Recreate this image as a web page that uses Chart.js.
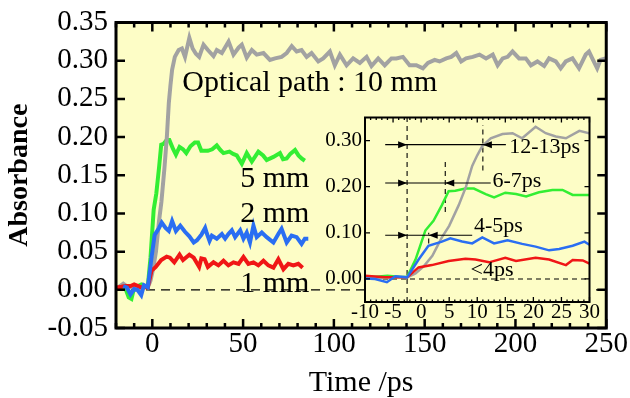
<!DOCTYPE html>
<html>
<head>
<meta charset="utf-8">
<script src="https://cdn.jsdelivr.net/npm/chart.js@4.4.0/dist/chart.umd.min.js"></script>
<style>
  html, body { margin: 0; padding: 0; background: #fff; }
  #wrap { position: relative; width: 630px; height: 398px; }
  #main { position: absolute; left: 0; top: 0; }
  #inset { position: absolute; left: 320px; top: 104px; }
</style>
</head>
<body>
<div id="wrap">
  <canvas id="main" width="630" height="398"></canvas>
  <canvas id="inset" width="280" height="222"></canvas>
</div>
<script>
// valeurs : [temps (ps), absorbance]
const gray10mm = [[-19,0.003],[-16,0.008],[-13,0.003],[-10,0.004],[-7,0.002],[-4,0.004],[-2.5,0.003],[-1,0.012],[0.5,0.028],[2,0.05],[3.7,0.09],[5,0.115],[6.7,0.16],[8,0.2],[9.1,0.245],[10,0.268],[10.9,0.288],[12.4,0.305],[14.5,0.314],[16.3,0.316],[18,0.305],[20.4,0.33],[22.2,0.316],[24,0.309],[25.8,0.305],[28.2,0.321],[30.6,0.314],[33.7,0.306],[35.5,0.314],[38.3,0.31],[42,0.325],[44.7,0.308],[47.5,0.317],[49.3,0.321],[52,0.304],[54.8,0.314],[57.5,0.308],[61.2,0.31],[64.8,0.301],[67.6,0.303],[71.2,0.305],[74,0.31],[76.8,0.319],[79.5,0.312],[82.2,0.314],[85,0.305],[87.7,0.31],[91.4,0.299],[94.1,0.303],[97.8,0.312],[100.5,0.294],[103.3,0.308],[107,0.294],[110.6,0.303],[114.3,0.297],[118,0.305],[120.7,0.293],[124.4,0.303],[128,0.294],[131.7,0.303],[134.4,0.303],[138,0.305],[141.7,0.294],[145.4,0.294],[149,0.29],[151.8,0.297],[155.5,0.301],[158.2,0.299],[161.9,0.303],[164.6,0.305],[167.4,0.31],[170.1,0.299],[172.8,0.303],[176.5,0.305],[180.2,0.308],[183.8,0.303],[187.5,0.308],[190.2,0.294],[193,0.303],[195.7,0.305],[198.4,0.312],[202,0.303],[205.7,0.303],[208.5,0.294],[212.1,0.299],[215.8,0.293],[218.5,0.303],[222.2,0.299],[224.9,0.29],[227.7,0.299],[231.4,0.303],[235,0.29],[238.7,0.308],[240.5,0.312],[242.3,0.303],[245,0.29],[246.8,0.301],[249.6,0.303]];
const green5mm = [[-19.5,0.001],[-17,0.004],[-15,0.003],[-13,-0.01],[-11.5,-0.012],[-10,0.003],[-8,0.005],[-6,0.007],[-4,0.005],[-2.5,0.004],[-1,0.042],[0.75,0.105],[2.2,0.126],[3.7,0.16],[4.9,0.19],[6.1,0.191],[7.9,0.196],[9.4,0.196],[11.5,0.184],[13,0.177],[15,0.187],[16.9,0.184],[18.7,0.179],[21,0.188],[23.4,0.193],[25.2,0.193],[27,0.182],[30.6,0.182],[33,0.184],[35.5,0.189],[37.5,0.183],[39.2,0.179],[42.5,0.181],[44.5,0.178],[46.5,0.176],[49.3,0.165],[52,0.179],[54.8,0.168],[58.4,0.181],[61,0.176],[63,0.17],[66.7,0.174],[70.3,0.179],[72,0.171],[74,0.172],[76,0.178],[78.6,0.183],[80.5,0.176],[82.2,0.172],[84,0.169]];
const blue2mm = [[-16,0.005],[-14,0.003],[-12,-0.006],[-10,0.001],[-8.2,0.0],[-6.1,-0.007],[-4.6,0.006],[-2.5,0.0035],[-0.45,0.042],[1.3,0.072],[3.7,0.081],[5.2,0.088],[7.3,0.081],[9.1,0.077],[10.9,0.09],[13,0.077],[15.4,0.084],[18,0.076],[20.4,0.07],[22.8,0.062],[24.6,0.065],[27,0.072],[29.1,0.081],[30,0.074],[31.5,0.064],[32.8,0.071],[35.5,0.067],[38.3,0.073],[40.1,0.067],[41.9,0.073],[43.8,0.078],[45.6,0.069],[48.4,0.078],[50.2,0.067],[52,0.075],[53.8,0.062],[55.7,0.084],[57.5,0.069],[60.3,0.075],[63,0.069],[66.7,0.062],[69.4,0.073],[71.2,0.08],[74,0.062],[76.7,0.071],[79.5,0.069],[82.2,0.06],[84,0.067],[85.9,0.067]];
const red1mm = [[-19.5,0.003],[-17,0.004],[-15,0.005],[-12,0.005],[-10,0.007],[-6.4,0.0035],[-2.5,0.0035],[-0.45,0.025],[1.9,0.03],[4.9,0.039],[7.9,0.0435],[9.7,0.042],[12.1,0.036],[15,0.046],[16.9,0.039],[20.4,0.046],[22.8,0.042],[25.8,0.03],[27,0.041],[28.8,0.04],[30.6,0.03],[33.7,0.036],[36.4,0.032],[39.2,0.038],[41.9,0.032],[44.7,0.036],[47.5,0.034],[50.2,0.043],[52.9,0.034],[55.7,0.036],[58.4,0.032],[61.2,0.038],[63.9,0.032],[66.7,0.029],[69.4,0.04],[72.2,0.027],[74.9,0.034],[77.7,0.032],[80.4,0.034],[82.8,0.029]];

// graduations
const mainXTicks = [0, 50, 100, 150, 200, 250];
const mainYTicks = [-0.05, 0, 0.05, 0.10, 0.15, 0.20, 0.25, 0.30, 0.35];
const insetXTicks = [-10, -5, 0, 5, 10, 15, 20, 25, 30];
const insetYTicks = [0, 0.10, 0.20, 0.30];

// textes
const mainTexts = [
  { text: 'Optical path : 10 mm', x: 16.5, y: 0.26, align: 'left' },
  { text: '5 mm', x: 86.5, y: 0.134, align: 'right' },
  { text: '2 mm', x: 86.5, y: 0.0886, align: 'right' },
  { text: '1 mm', x: 86.5, y: -0.003, align: 'right' }
];
const insetTexts = [
  { text: '12-13ps', x: 15.7, y: 0.272 },
  { text: '6-7ps', x: 12.7, y: 0.20 },
  { text: '4-5ps', x: 9.4, y: 0.102 },
  { text: '<4ps', x: 8.8, y: 0.006 }
];
// flèches : hauteur, début, fin, pointe gauche, pointe droite
const insetArrows = [
  { y: 0.291, from: -6.4, to: 15.1, tipA: -2.5, tipB: 11 },
  { y: 0.208, from: -6.4, to: 12.4, tipA: -2.5, tipB: 4.3 },
  { y: 0.0947, from: -6.4, to: 9.1, tipA: -2.5, tipB: 1.35 }
];
// segments pointillés [x1, y1, x2, y2]
const insetDashes = [
  [-10, 0, 30, 0],
  [-2.5, -0.05, -2.5, 0.35],
  [4.3, 0.145, 4.3, 0.256],
  [11, 0.235, 11, 0.334],
  [1.35, 0.077, 1.35, 0.10]
];
const mainDashes = [[-20, 0, 250, 0]];

const BG = '#fdfdc6';
const FONT = "'Liberation Serif', 'Times New Roman', serif";
const COLORS = { gray: '#a2a2a2', green: '#33ee33', blue: '#2a6ef2', red: '#f01616' };

Chart.defaults.font.family = FONT;
Chart.defaults.color = '#000';

function toXY(arr) {
  return arr.map(p => ({ x: p[0], y: p[1] }));
}

function datasets(width) {
  // le premier est dessiné au-dessus
  return [
    { data: toXY(blue2mm), borderColor: COLORS.blue, borderWidth: width },
    { data: toXY(red1mm), borderColor: COLORS.red, borderWidth: width },
    { data: toXY(gray10mm), borderColor: COLORS.gray, borderWidth: width },
    { data: toXY(green5mm), borderColor: COLORS.green, borderWidth: width }
  ].map(d => Object.assign(d, { pointRadius: 0, tension: 0, fill: false }));
}

function framePlugin(cfg) {
  return {
    id: 'frame' + cfg.name,
    beforeDatasetsDraw(chart) {
      const { ctx, chartArea: a, scales: { x, y } } = chart;
      ctx.save();
      ctx.fillStyle = BG;
      ctx.fillRect(a.left, a.top, a.right - a.left, a.bottom - a.top);
      ctx.beginPath();
      ctx.rect(a.left, a.top, a.right - a.left, a.bottom - a.top);
      ctx.clip();
      ctx.strokeStyle = '#000';
      ctx.lineWidth = cfg.dashWidth;
      ctx.setLineDash(cfg.dashPattern);
      cfg.dashes.forEach(s => {
        ctx.beginPath();
        ctx.moveTo(x.getPixelForValue(s[0]), y.getPixelForValue(s[1]));
        ctx.lineTo(x.getPixelForValue(s[2]), y.getPixelForValue(s[3]));
        ctx.stroke();
      });
      ctx.restore();
    },
    afterDatasetsDraw(chart) {
      const { ctx, scales: { x, y } } = chart;
      ctx.save();
      ctx.fillStyle = '#000';
      ctx.strokeStyle = '#000';
      ctx.font = cfg.textSize + 'px ' + FONT;
      ctx.textBaseline = 'alphabetic';
      cfg.texts.forEach(t => {
        ctx.textAlign = t.align || 'left';
        ctx.fillText(t.text, x.getPixelForValue(t.x), y.getPixelForValue(t.y));
      });
      ctx.lineWidth = 1.2;
      (cfg.arrows || []).forEach(ar => {
        const py = y.getPixelForValue(ar.y);
        ctx.beginPath();
        ctx.moveTo(x.getPixelForValue(ar.from), py);
        ctx.lineTo(x.getPixelForValue(ar.to), py);
        ctx.stroke();
        const a = x.getPixelForValue(ar.tipA);
        const b = x.getPixelForValue(ar.tipB);
        ctx.beginPath();
        ctx.moveTo(a, py); ctx.lineTo(a - 9, py - 3.5); ctx.lineTo(a - 9, py + 3.5); ctx.closePath();
        ctx.fill();
        ctx.beginPath();
        ctx.moveTo(b, py); ctx.lineTo(b + 9, py - 3.5); ctx.lineTo(b + 9, py + 3.5); ctx.closePath();
        ctx.fill();
      });
      ctx.restore();
    },
    afterDraw(chart) {
      const { ctx, chartArea: a, scales: { x, y } } = chart;
      ctx.save();
      ctx.strokeStyle = '#000';
      ctx.lineWidth = cfg.frameWidth;
      ctx.strokeRect(a.left, a.top, a.right - a.left, a.bottom - a.top);
      ctx.lineWidth = cfg.tickWidth;
      const tick = (px, len, vertical) => {
        ctx.beginPath();
        if (vertical) {
          ctx.moveTo(px, a.bottom); ctx.lineTo(px, a.bottom - len);
          ctx.moveTo(px, a.top); ctx.lineTo(px, a.top + len);
        } else {
          ctx.moveTo(a.left, px); ctx.lineTo(a.left + len, px);
          ctx.moveTo(a.right, px); ctx.lineTo(a.right - len, px);
        }
        ctx.stroke();
      };
      for (let v = x.min; v <= x.max + 1e-9; v += cfg.xMinor) {
        const major = Math.abs(v / cfg.xMajor - Math.round(v / cfg.xMajor)) < 1e-6;
        tick(x.getPixelForValue(v), major ? cfg.majorLen : cfg.minorLen, true);
      }
      cfg.yTicks.forEach(v => tick(y.getPixelForValue(v), cfg.majorLen, false));
      ctx.restore();
    }
  };
}

function scaleX(min, max, ticks, height, size, pad) {
  return {
    type: 'linear', min: min, max: max,
    afterBuildTicks: s => { s.ticks = ticks.map(v => ({ value: v })); },
    afterFit: s => { s.height = height; },
    grid: { display: false, drawTicks: false },
    border: { display: false },
    ticks: { font: { size: size, lineHeight: 1 }, padding: pad, maxRotation: 0, autoSkip: false }
  };
}

function scaleY(min, max, ticks, width, size, pad) {
  return {
    type: 'linear', min: min, max: max,
    afterBuildTicks: s => { s.ticks = ticks.map(v => ({ value: v })); },
    afterFit: s => { s.width = width; },
    grid: { display: false, drawTicks: false },
    border: { display: false },
    ticks: { font: { size: size, lineHeight: 1 }, padding: pad, callback: v => v.toFixed(2) }
  };
}

// graphique principal
const mainX = scaleX(-20, 250, mainXTicks, 70, 29, 2);
mainX.title = { display: true, text: 'Time /ps', font: { size: 30, lineHeight: 1 }, padding: 0 };
const mainY = scaleY(-0.05, 0.35, mainYTicks, 116, 29, 8);
mainY.title = { display: true, text: 'Absorbance', font: { size: 28, weight: 'bold', lineHeight: 1 }, padding: { top: 6, bottom: 0 } };

new Chart(document.getElementById('main'), {
  type: 'line',
  data: { datasets: datasets(4) },
  options: {
    responsive: false,
    animation: false,
    layout: { padding: { top: 21, right: 23, left: 0, bottom: 0 } },
    plugins: { legend: { display: false }, tooltip: { enabled: false } },
    scales: { x: mainX, y: mainY }
  },
  plugins: [framePlugin({
    name: 'Main', dashes: mainDashes, dashPattern: [9, 6], dashWidth: 1.3,
    texts: mainTexts, textSize: 30, frameWidth: 3, tickWidth: 2.5,
    xMinor: 10, xMajor: 50, majorLen: 9, minorLen: 5, yTicks: mainYTicks
  })]
});

// encart
new Chart(document.getElementById('inset'), {
  type: 'line',
  data: { datasets: datasets(2.5) },
  options: {
    responsive: false,
    animation: false,
    layout: { padding: { top: 6, right: 7, left: 0, bottom: 0 } },
    plugins: { legend: { display: false }, tooltip: { enabled: false } },
    scales: {
      x: scaleX(-10, 30, insetXTicks, 24, 21, 0),
      y: scaleY(-0.05, 0.35, insetYTicks, 45, 21, 3)
    }
  },
  plugins: [framePlugin({
    name: 'Inset', dashes: insetDashes, dashPattern: [5, 4], dashWidth: 1.1,
    texts: insetTexts, textSize: 22, arrows: insetArrows, frameWidth: 2, tickWidth: 1.3,
    xMinor: 1, xMajor: 5, majorLen: 5, minorLen: 2.5, yTicks: insetYTicks
  })]
});
</script>
</body>
</html>
